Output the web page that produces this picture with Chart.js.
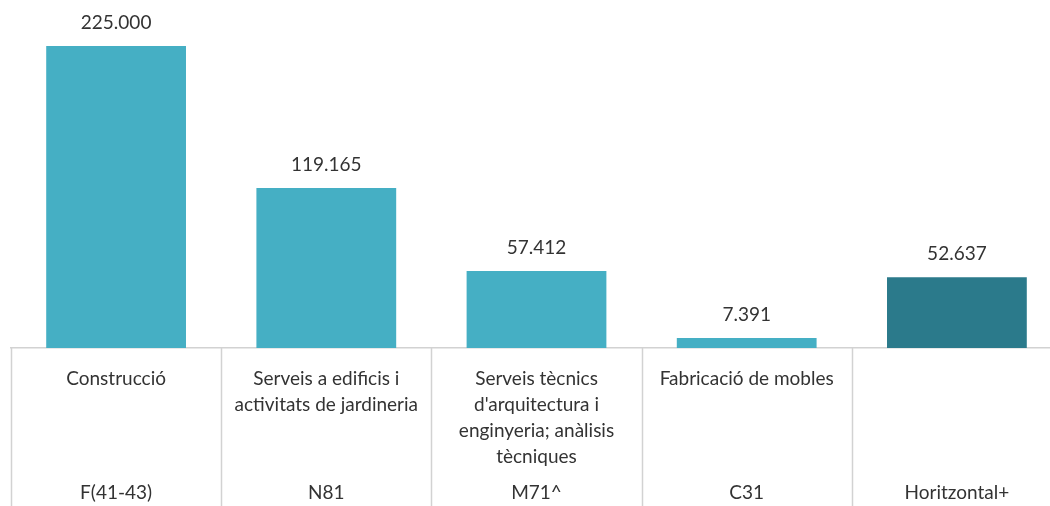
<!DOCTYPE html>
<html>
<head>
<meta charset="utf-8">
<script src="https://cdn.jsdelivr.net/npm/chart.js@4.4.1/dist/chart.umd.min.js"></script>
<style>
  html, body { margin: 0; padding: 0; background: #fff; overflow: hidden; }
  #wrap { width: 1062px; height: 506px; }
</style>
</head>
<body>
<div id="wrap"><canvas id="barChart"></canvas></div>
<script>
let categories = [
    ["Construcció"],
    ["Serveis a edificis i", "activitats de jardineria"],
    ["Serveis tècnics", "d'arquitectura i", "enginyeria; anàlisis", "tècniques"],
    ["Fabricació de mobles"],
    [""]
]
let codes = ["F(41-43)", "N81", "M71^", "C31", "Horitzontal+"]
let values = [225000, 119165, 57412, 7391, 52637]
let barColors = ["#45afc4", "#45afc4", "#45afc4", "#45afc4", "#2b7a8b"]

function fmt(n) {
    return String(n).replace(/\B(?=(\d{3})+(?!\d))/g, ".")
}

// value labels above the bars
let valueLabels = {
    id: "valueLabels",
    afterDatasetsDraw(chart) {
        let ctx = chart.ctx
        let meta = chart.getDatasetMeta(0)
        ctx.save()
        ctx.font = "19px Lato"
        ctx.fillStyle = "#333333"
        ctx.textAlign = "center"
        ctx.textBaseline = "middle"
        meta.data.forEach((bar, i) => {
            ctx.fillText(fmt(values[i]), bar.x, bar.y - 23)
        })
        ctx.restore()
    }
}

// table-like separators under the axis
let separators = {
    id: "separators",
    afterDraw(chart) {
        let ctx = chart.ctx
        let x = chart.scales.x
        let half = (x.getPixelForValue(1) - x.getPixelForValue(0)) / 2
        ctx.save()
        ctx.strokeStyle = "#d2d2d2"
        ctx.lineWidth = 1.5
        for (let i = 0; i < values.length; i++) {
            let px = Math.round(x.getPixelForValue(i) - half) + 0.5
            ctx.beginPath()
            ctx.moveTo(px, chart.chartArea.bottom)
            ctx.lineTo(px, chart.height)
            ctx.stroke()
        }
        ctx.restore()
    }
}

let CHART = document.getElementById("barChart")
let barChart = new Chart(CHART, {
    type: "bar",
    data: {
        labels: categories,
        datasets: [
            {
                data: values,
                backgroundColor: barColors,
                borderWidth: 0,
                barPercentage: 0.665,
                categoryPercentage: 1
            }
        ]
    },
    options: {
        responsive: true,
        maintainAspectRatio: false,
        animation: false,
        layout: { padding: { left: 11, right: 0, top: 46, bottom: 0 } },
        plugins: {
            legend: { display: false },
            tooltip: { enabled: false }
        },
        scales: {
            y: {
                display: false,
                min: 0,
                max: 225000
            },
            x: {
                position: "bottom",
                weight: 0,
                grid: { display: false },
                border: { display: true, color: "#d2d2d2", width: 1.5 },
                ticks: {
                    autoSkip: false,
                    maxRotation: 0,
                    minRotation: 0,
                    padding: 10,
                    color: "#333333",
                    font: { family: "Lato", size: 19, lineHeight: "26px" }
                },
                afterFit(scale) { scale.height = 124 }
            },
            x2: {
                type: "category",
                position: "bottom",
                weight: 1,
                labels: codes,
                grid: { display: false },
                border: { display: false },
                ticks: {
                    autoSkip: false,
                    maxRotation: 0,
                    minRotation: 0,
                    padding: 0,
                    color: "#333333",
                    font: { family: "Lato", size: 19, lineHeight: "26px" }
                },
                afterFit(scale) { scale.height = 34 }
            }
        }
    },
    plugins: [valueLabels, separators]
})
</script>
</body>
</html>
